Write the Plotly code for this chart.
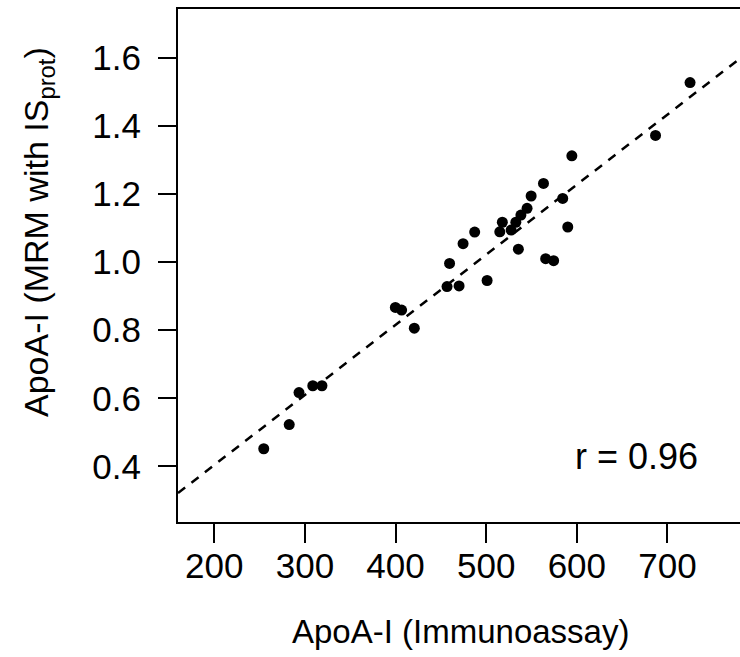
import plotly.graph_objects as go

# --- data ---
immunoassay = [254.6, 282.7, 293.5, 308.7, 318.8, 399.8, 406.7, 420.7, 456.8, 470.1,
               459.6, 474.5, 487.3, 501.0, 515.0, 517.8, 527.5, 532.7, 538.3, 545.1,
               549.6, 535.5, 563.2, 565.6, 574.4, 584.4, 590.0, 594.5, 686.8, 724.9]
mrm_isprot = [0.452, 0.523, 0.617, 0.637, 0.637, 0.867, 0.859, 0.806, 0.928, 0.930,
              0.996, 1.054, 1.088, 0.946, 1.089, 1.117, 1.094, 1.117, 1.138, 1.158,
              1.194, 1.038, 1.231, 1.010, 1.004, 1.187, 1.103, 1.312, 1.372, 1.527]
fit_slope = 0.002058
fit_intercept = -0.0073
x_range = [160, 780]
y_range = [0.237, 1.743]
x_ticks = [200, 300, 400, 500, 600, 700]
y_ticks = [0.4, 0.6, 0.8, 1.0, 1.2, 1.4, 1.6]
r_label = "r = 0.96"
x_title = "ApoA-I (Immunoassay)"
y_title = "ApoA-I (MRM with IS<sub>prot</sub>)"

FONT = "Liberation Sans, Arial, Helvetica, sans-serif"

line_x = x_range
line_y = [fit_intercept + fit_slope * v for v in line_x]

fig = go.Figure()
fig.add_trace(go.Scatter(
    x=line_x, y=line_y, mode="lines",
    line=dict(color="black", width=2.5, dash="9px,8px"),
    hoverinfo="skip", showlegend=False,
))
fig.add_trace(go.Scatter(
    x=immunoassay, y=mrm_isprot, mode="markers",
    marker=dict(color="black", size=11, line=dict(width=0)),
    showlegend=False,
))

fig.update_layout(
    width=740, height=657,
    margin=dict(l=178, r=0, t=9, b=135, pad=0),
    paper_bgcolor="white", plot_bgcolor="white",
    font=dict(family=FONT, size=33, color="black"),
    xaxis=dict(
        range=x_range, tickvals=x_ticks, showgrid=False, zeroline=False,
        showline=True, linecolor="black", linewidth=2, mirror=True,
        ticks="outside", ticklen=19, tickwidth=2, tickcolor="black",
        tickfont=dict(size=35, family=FONT, color="black"),
        ticklabelstandoff=-7,
    ),
    yaxis=dict(
        range=y_range, tickvals=y_ticks, tickformat=".1f", showgrid=False, zeroline=False,
        showline=True, linecolor="black", linewidth=2, mirror=False,
        ticks="outside", ticklen=18, tickwidth=2, tickcolor="black",
        tickfont=dict(size=35, family=FONT, color="black"),
        ticklabelstandoff=10,
    ),
    annotations=[
        dict(text=r_label, xref="x", yref="y", x=665.5, y=0.428,
             xanchor="center", yanchor="middle", showarrow=False,
             font=dict(size=36, family=FONT, color="black")),
        dict(text=x_title, xref="paper", yref="paper",
             x=(460 - 178) / 562, y=(522 - 631) / 513, xanchor="center", yanchor="middle",
             showarrow=False, font=dict(size=33, family=FONT, color="black")),
        dict(text=y_title, xref="paper", yref="paper",
             x=(38 - 178) / 562, y=(522 - 232) / 513, xanchor="center", yanchor="middle",
             textangle=-90, showarrow=False,
             font=dict(size=34, family=FONT, color="black")),
    ],
)

fig.write_html("out.html", config={"displayModeBar": False},
               post_script="document.body.style.margin='0px';")
